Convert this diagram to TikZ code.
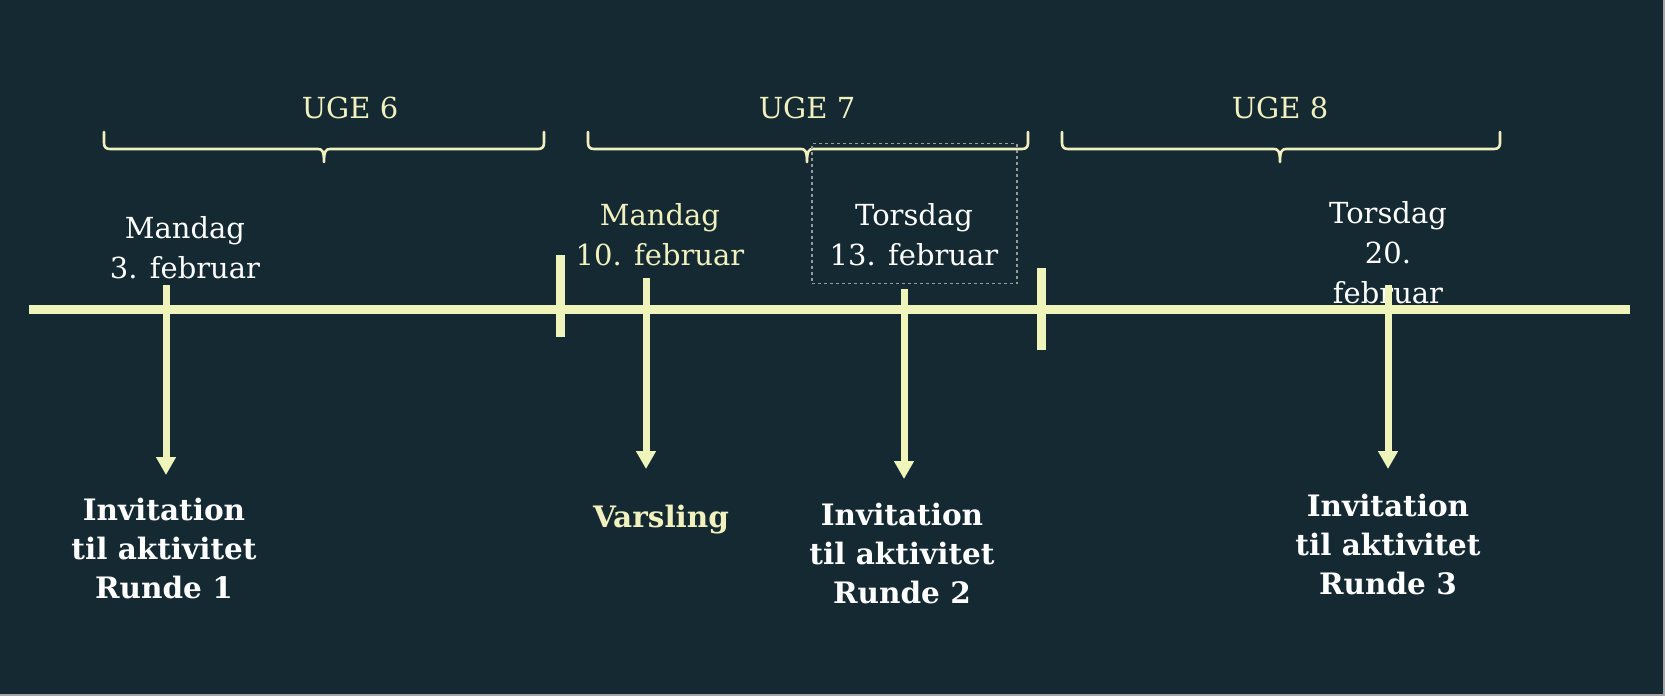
\documentclass[tikz,border=0pt]{standalone}
\usepackage{fontspec}
\setmainfont{DejaVu Serif}
\usetikzlibrary{arrows.meta}
\definecolor{bgc}{RGB}{20,41,50}
\definecolor{lyel}{RGB}{238,244,186}
\definecolor{tyel}{RGB}{240,241,190}
\definecolor{boxgray}{RGB}{150,155,158}
\tikzset{
  lbl/.style={inner sep=0pt, align=center, anchor=base, font=\fontsize{29}{40}\selectfont},
  wlbl/.style={lbl, text=white},
  ylbl/.style={lbl, text=tyel},
  blbl/.style={lbl, text=white, font=\fontsize{29.5}{39}\selectfont\bfseries},
  axis/.style={draw=lyel, line width=9pt},
  tickmark/.style={draw=lyel, line width=9pt},
  pointer/.style={draw=lyel, line width=7pt, -{Triangle[width=19pt,length=18pt]}},
  bracepath/.style={draw=tyel, line width=2.6pt, line cap=round, line join=round},
}
\begin{document}
\begin{tikzpicture}[x=1pt,y=-1pt]
\fill[bgc] (0,0) rectangle (1665,696);
\useasboundingbox (0,0) rectangle (1665,696);
\draw[gray!70, line width=1.5pt] (0,695.2) -- (1664.2,695.2) -- (1664.2,0);

% week labels
\node[ylbl] (uge6) at (350,118) {UGE 6};
\node[ylbl] (uge7) at (807,118) {UGE 7};
\node[ylbl] (uge8) at (1280,118) {UGE 8};

% braces
\draw[bracepath] (104,132) -- (104,143) .. controls (104,147) and (106,149) .. (110,149)
  -- (318,149) .. controls (322,149) and (324,151) .. (324,162)
  .. controls (324,151) and (326,149) .. (330,149)
  -- (538,149) .. controls (542,149) and (544,147) .. (544,143) -- (544,132);
\draw[bracepath] (588,132) -- (588,143) .. controls (588,147) and (590,149) .. (594,149)
  -- (801,149) .. controls (805,149) and (807,151) .. (807,162)
  .. controls (807,151) and (809,149) .. (813,149)
  -- (1022,149) .. controls (1026,149) and (1028,147) .. (1028,143) -- (1028,132);
\draw[bracepath] (1062,132) -- (1062,143) .. controls (1062,147) and (1064,149) .. (1068,149)
  -- (1274,149) .. controls (1278,149) and (1280,151) .. (1280,162)
  .. controls (1280,151) and (1282,149) .. (1286,149)
  -- (1494,149) .. controls (1498,149) and (1500,147) .. (1500,143) -- (1500,132);

% dotted box
\node[draw=boxgray, dash pattern=on 3pt off 3pt, line width=1.4pt, inner sep=0pt,
      minimum width=205pt, minimum height=140pt] (hlbox) at (914.5,213.5) {};

% date labels (anchor = baseline of the last line)
\node[wlbl] (d1) at (185,278) {Mandag\\3. februar};
\node[ylbl] (d2) at (660,265) {Mandag\\10. februar};
\node[wlbl] (d3) at (914,265) {Torsdag\\13. februar};
\node[wlbl] (d4) at (1388,303) {Torsdag\\20.\\februar};

% timeline
\coordinate (tl0) at (29,309);
\coordinate (tl1) at (1630,309);
\draw[axis] (tl0) -- (tl1);
\coordinate (t1a) at (560,255); \coordinate (t1b) at (560,337);
\coordinate (t2a) at (1041,268); \coordinate (t2b) at (1041,350);
\draw[tickmark] (t1a) -- (t1b);
\draw[tickmark] (t2a) -- (t2b);

% bottom labels
\node[blbl] (e1) at (164,598) {Invitation\\til aktivitet\\Runde 1};
\node[blbl, text=tyel] (e2) at (661,527) {Varsling};
\node[blbl] (e3) at (902,603) {Invitation\\til aktivitet\\Runde 2};
\node[blbl] (e4) at (1388,594) {Invitation\\til aktivitet\\Runde 3};

% arrows
\coordinate (a1s) at (166,285); \coordinate (a1e) at (166,475);
\coordinate (a2s) at (646,278); \coordinate (a2e) at (646,469);
\coordinate (a3s) at (904,289); \coordinate (a3e) at (904,479);
\coordinate (a4s) at (1388,285); \coordinate (a4e) at (1388,469);
\draw[pointer] (a1s) -- (a1e);
\draw[pointer] (a2s) -- (a2e);
\draw[pointer] (a3s) -- (a3e);
\draw[pointer] (a4s) -- (a4e);
\end{tikzpicture}
\end{document}
